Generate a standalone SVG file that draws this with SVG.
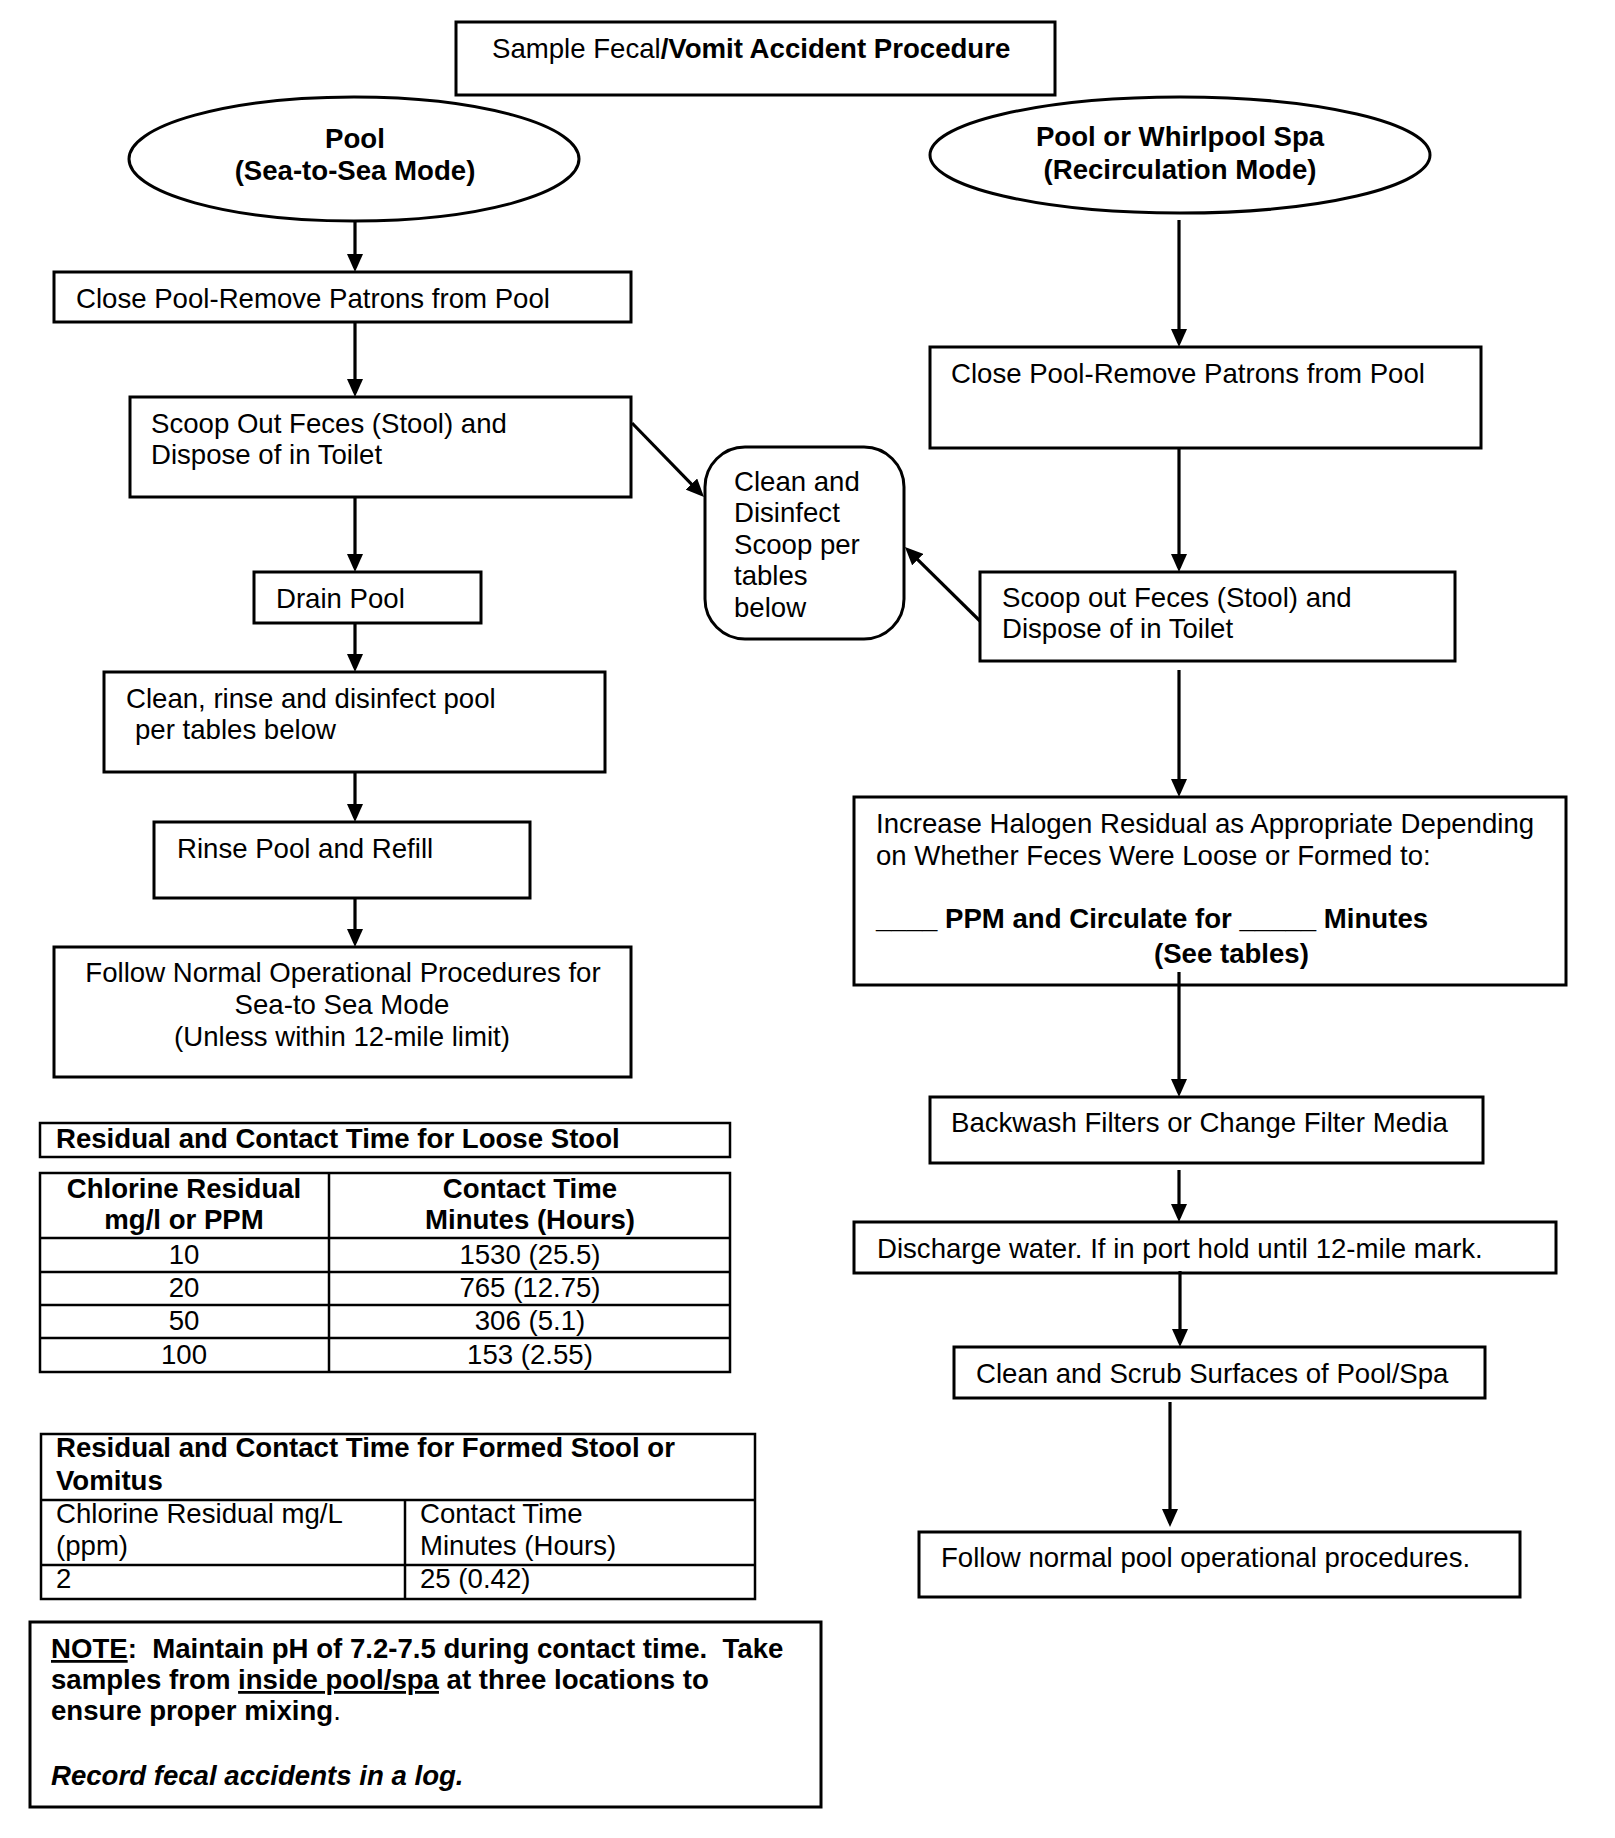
<svg xmlns="http://www.w3.org/2000/svg" width="1615" height="1838" viewBox="0 0 1615 1838">
<style>
text{font-family:"Liberation Sans",Arial,sans-serif;font-size:27.6px;fill:#000}
.b{font-weight:bold}
.box{fill:#fff;stroke:#000;stroke-width:3}
.conn line{stroke:#000;stroke-width:3.2;marker-end:url(#ah)}
.tbl{fill:none;stroke:#000;stroke-width:2.5}
.c{text-anchor:middle}
</style>
<defs>
<marker id="ah" markerUnits="userSpaceOnUse" markerWidth="18" markerHeight="16" viewBox="0 0 18 16" refX="14" refY="8" orient="auto">
<path d="M0,0 L18,8 L0,16 z" fill="#000"/>
</marker>
</defs>
<rect width="1615" height="1838" fill="#fff"/>

<g id="title">
<rect class="box" x="456" y="22" width="599" height="73"/>
<text x="492" y="58">Sample Fecal<tspan class="b">/Vomit Accident Procedure</tspan></text>
</g>

<g id="pool-ellipse">
<ellipse class="box" cx="354" cy="159" rx="225" ry="62"/>
<text class="b c" x="355" y="148">Pool</text>
<text class="b c" x="355" y="180">(Sea-to-Sea Mode)</text>
</g>

<g id="spa-ellipse">
<ellipse class="box" cx="1180" cy="155" rx="250" ry="58"/>
<text class="b c" x="1180" y="146">Pool or Whirlpool Spa</text>
<text class="b c" x="1180" y="179">(Recirculation Mode)</text>
</g>

<g id="l-close">
<rect class="box" x="54" y="272" width="577" height="50"/>
<text x="76" y="308">Close Pool-Remove Patrons from Pool</text>
</g>

<g id="l-scoop">
<rect class="box" x="130" y="397" width="501" height="100"/>
<text x="151" y="433">Scoop Out Feces (Stool) and</text>
<text x="151" y="464">Dispose of in Toilet</text>
</g>

<g id="l-drain">
<rect class="box" x="254" y="572" width="227" height="51"/>
<text x="276" y="608">Drain Pool</text>
</g>

<g id="l-clean">
<rect class="box" x="104" y="672" width="501" height="100"/>
<text x="126" y="708">Clean, rinse and disinfect pool</text>
<text x="135" y="739">per tables below</text>
</g>

<g id="l-rinse">
<rect class="box" x="154" y="822" width="376" height="76"/>
<text x="177" y="858">Rinse Pool and Refill</text>
</g>

<g id="l-follow">
<rect class="box" x="54" y="947" width="577" height="130"/>
<text class="c" x="343" y="982">Follow Normal Operational Procedures for</text>
<text class="c" x="342" y="1014">Sea-to Sea Mode</text>
<text class="c" x="342" y="1046">(Unless within 12-mile limit)</text>
</g>

<g id="scoop-clean">
<rect class="box" x="705" y="447" width="199" height="192" rx="40" ry="40"/>
<text x="734" y="491">Clean and</text>
<text x="734" y="522">Disinfect</text>
<text x="734" y="554">Scoop per</text>
<text x="734" y="585">tables</text>
<text x="734" y="617">below</text>
</g>

<g id="r-close">
<rect class="box" x="930" y="347" width="551" height="101"/>
<text x="951" y="383">Close Pool-Remove Patrons from Pool</text>
</g>

<g id="r-scoop">
<rect class="box" x="980" y="572" width="475" height="89"/>
<text x="1002" y="607">Scoop out Feces (Stool) and</text>
<text x="1002" y="638">Dispose of in Toilet</text>
</g>

<g id="r-increase">
<rect class="box" x="854" y="797" width="712" height="188"/>
<text x="876" y="833">Increase Halogen Residual as Appropriate Depending</text>
<text x="876" y="865">on Whether Feces Were Loose or Formed to:</text>
<text class="b" x="876" y="928">____ PPM and Circulate for _____ Minutes</text>
<text class="b" x="1154" y="963">(See tables)</text>
</g>

<g id="r-backwash">
<rect class="box" x="930" y="1097" width="553" height="66"/>
<text x="951" y="1132">Backwash Filters or Change Filter Media</text>
</g>

<g id="r-discharge">
<rect class="box" x="854" y="1222" width="702" height="51"/>
<text x="877" y="1258">Discharge water. If in port hold until 12-mile mark.</text>
</g>

<g id="r-scrub">
<rect class="box" x="954" y="1347" width="531" height="51"/>
<text x="976" y="1383">Clean and Scrub Surfaces of Pool/Spa</text>
</g>

<g id="r-follow">
<rect class="box" x="919" y="1532" width="601" height="65"/>
<text x="941" y="1567">Follow normal pool operational procedures.</text>
</g>

<g id="loose-table">
<rect class="tbl" x="40" y="1123" width="690" height="34"/>
<text class="b" x="56" y="1148">Residual and Contact Time for Loose Stool</text>
<rect class="tbl" x="40" y="1173" width="690" height="199"/>
<line class="tbl" x1="329" y1="1173" x2="329" y2="1372"/>
<line class="tbl" x1="40" y1="1238" x2="730" y2="1238"/>
<line class="tbl" x1="40" y1="1272" x2="730" y2="1272"/>
<line class="tbl" x1="40" y1="1305" x2="730" y2="1305"/>
<line class="tbl" x1="40" y1="1338" x2="730" y2="1338"/>
<text class="b c" x="184" y="1198">Chlorine Residual</text>
<text class="b c" x="184" y="1229">mg/l or PPM</text>
<text class="b c" x="530" y="1198">Contact Time</text>
<text class="b c" x="530" y="1229">Minutes (Hours)</text>
<text class="c" x="184" y="1264">10</text>
<text class="c" x="530" y="1264">1530 (25.5)</text>
<text class="c" x="184" y="1297">20</text>
<text class="c" x="530" y="1297">765 (12.75)</text>
<text class="c" x="184" y="1330">50</text>
<text class="c" x="530" y="1330">306 (5.1)</text>
<text class="c" x="184" y="1364">100</text>
<text class="c" x="530" y="1364">153 (2.55)</text>
</g>

<g id="formed-table">
<rect class="tbl" x="41" y="1434" width="714" height="165"/>
<line class="tbl" x1="41" y1="1500" x2="755" y2="1500"/>
<line class="tbl" x1="41" y1="1565" x2="755" y2="1565"/>
<line class="tbl" x1="405" y1="1500" x2="405" y2="1599"/>
<text class="b" x="56" y="1457">Residual and Contact Time for Formed Stool or</text>
<text class="b" x="56" y="1490">Vomitus</text>
<text x="56" y="1523">Chlorine Residual mg/L</text>
<text x="56" y="1555">(ppm)</text>
<text x="420" y="1523">Contact Time</text>
<text x="420" y="1555">Minutes (Hours)</text>
<text x="56" y="1588">2</text>
<text x="420" y="1588">25 (0.42)</text>
</g>

<g id="note">
<rect class="box" x="30" y="1622" width="791" height="185"/>
<text class="b" x="51" y="1658" xml:space="preserve"><tspan text-decoration="underline">NOTE</tspan>:  Maintain pH of 7.2-7.5 during contact time.  Take</text>
<text class="b" x="51" y="1689">samples from <tspan text-decoration="underline">inside pool/spa</tspan> at three locations to</text>
<text class="b" x="51" y="1720">ensure proper mixing<tspan font-weight="normal">.</tspan></text>
<text class="b" x="51" y="1785" font-style="italic">Record fecal accidents in a log.</text>
</g>

<g id="connectors" class="conn">
<line x1="355" y1="222" x2="355" y2="268"/>
<line x1="355" y1="322" x2="355" y2="393"/>
<line x1="355" y1="497" x2="355" y2="568"/>
<line x1="355" y1="623" x2="355" y2="668"/>
<line x1="355" y1="772" x2="355" y2="818"/>
<line x1="355" y1="898" x2="355" y2="943"/>
<line x1="632" y1="423" x2="701.2" y2="494.1"/>
<line x1="980" y1="621" x2="907.8" y2="549.8"/>
<line x1="1179" y1="220" x2="1179" y2="343"/>
<line x1="1179" y1="448" x2="1179" y2="568"/>
<line x1="1179" y1="670" x2="1179" y2="793"/>
<line x1="1179" y1="972" x2="1179" y2="1093"/>
<line x1="1179" y1="1170" x2="1179" y2="1218"/>
<line x1="1180" y1="1271" x2="1180" y2="1343"/>
<line x1="1170" y1="1402" x2="1170" y2="1523"/>
</g>
</svg>
